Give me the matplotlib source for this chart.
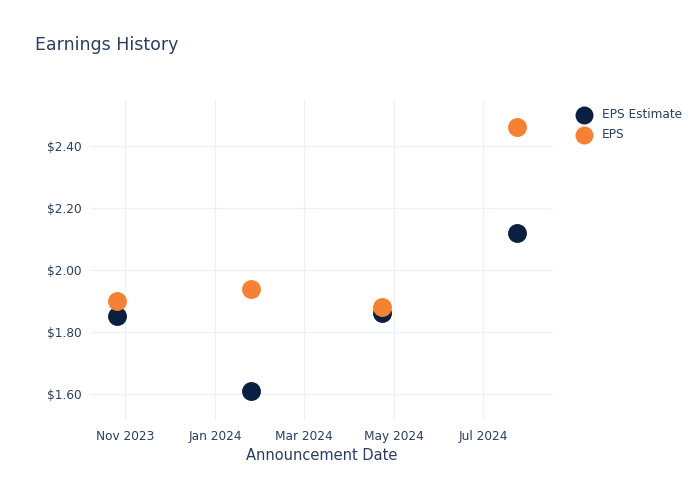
import matplotlib
matplotlib.use("Agg")
import matplotlib.pyplot as plt
import matplotlib.dates as mdates
from matplotlib.ticker import FuncFormatter
import pandas as pd

# data
dates = pd.to_datetime(["2023-10-26", "2024-01-25", "2024-04-23", "2024-07-24"])
eps_estimate = [1.85, 1.61, 1.86, 2.12]
eps_actual = [1.90, 1.94, 1.88, 2.46]

text_c = "#2a3f5f"
grid_c = "#eef1f7"
navy = "#0b1f41"
orange = "#f58134"

fig = plt.figure(figsize=(7, 5), dpi=100)
ax = fig.add_axes([0.1286, 0.16, 0.661, 0.64])

ax.scatter(dates, eps_estimate, s=185, color=navy, label="EPS Estimate", zorder=3, linewidths=0)
ax.scatter(dates, eps_actual, s=185, color=orange, label="EPS", zorder=4, linewidths=0)

ax.set_xlim(pd.Timestamp("2023-10-08"), pd.Timestamp("2024-08-17"))
ax.set_ylim(1.516, 2.548)

ax.xaxis.set_major_locator(mdates.MonthLocator(bymonth=[1, 3, 5, 7, 9, 11]))
ax.xaxis.set_major_formatter(mdates.DateFormatter("%b %Y"))
ax.set_yticks([1.6, 1.8, 2.0, 2.2, 2.4])
ax.yaxis.set_major_formatter(FuncFormatter(lambda v, p: f"${v:.2f}"))

ax.grid(True, color=grid_c, linewidth=1)
ax.set_axisbelow(True)
for s in ax.spines.values():
    s.set_visible(False)
ax.tick_params(length=0, labelsize=8.7, colors=text_c, pad=6)
ax.tick_params(axis="x", pad=7)

ax.set_xlabel("Announcement Date", fontsize=10.5, color=text_c, labelpad=4)
fig.text(0.05, 0.91, "Earnings History", fontsize=12.5, color=text_c, va="center")

leg = ax.legend(loc="upper left", bbox_to_anchor=(1.03, 0.99), frameon=False,
                fontsize=8.7, handletextpad=0.5, labelspacing=0.55, borderaxespad=0.0,
                markerscale=0.95)
for t in leg.get_texts():
    t.set_color(text_c)

fig.savefig("out.png", dpi=100)
